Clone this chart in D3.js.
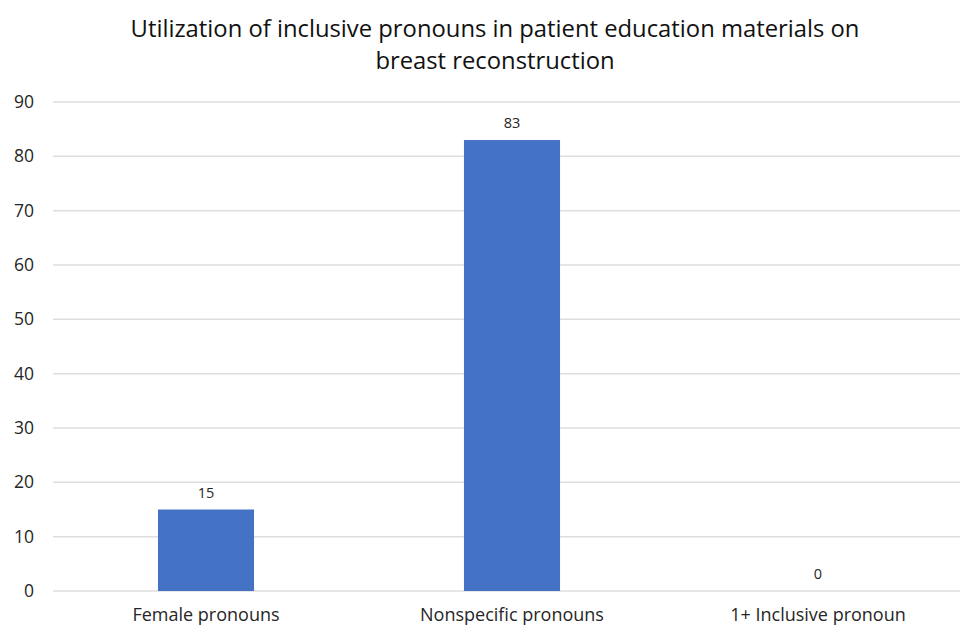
<!DOCTYPE html>
<html>
<head>
<meta charset="utf-8">
<script src="https://cdn.jsdelivr.net/npm/d3@7"></script>
<style>
  body { margin: 0; background: #fff; }
  svg { font-family: "Open Sans", "Noto Sans", sans-serif; }
</style>
</head>
<body>
<div id="chart"></div>
<script>
var categories = ["Female pronouns", "Nonspecific pronouns", "1+ Inclusive pronoun"];
var values = [15, 83, 0];
var yTicks = [0, 10, 20, 30, 40, 50, 60, 70, 80, 90];
var titleLines = ["Utilization of inclusive pronouns in patient education materials on", "breast reconstruction"];

var width = 960, height = 628;

var svg = d3.select("#chart")
  .append("svg")
    .attr("width", width)
    .attr("height", height);

// plot area runs a bit past the right edge, like the cropped original
var x = d3.scaleBand()
  .domain(categories)
  .range([53, 971])
  .paddingInner(0.686)
  .paddingOuter(0.343);

var y = d3.scaleLinear()
  .domain([0, 90])
  .range([591, 102]);

// gridlines
svg.append("g")
  .selectAll("line")
  .data(yTicks)
  .enter()
  .append("line")
    .attr("x1", 53)
    .attr("x2", width)
    .attr("y1", function(d) { return y(d); })
    .attr("y2", function(d) { return y(d); })
    .style("stroke", "#dedede")
    .style("stroke-width", 1.5);

// y axis labels
svg.append("g")
  .selectAll("text")
  .data(yTicks)
  .enter()
  .append("text")
    .attr("x", 34)
    .attr("y", function(d) { return y(d); })
    .attr("dy", "0.35em")
    .attr("text-anchor", "end")
    .style("font-size", "17.5px")
    .style("fill", "#262626")
    .text(function(d) { return d; });

// bars
svg.append("g")
  .selectAll("rect")
  .data(values)
  .enter()
  .append("rect")
    .attr("x", function(d, i) { return x(categories[i]); })
    .attr("width", x.bandwidth())
    .attr("y", function(d) { return y(d); })
    .attr("height", function(d) { return y(0) - y(d); })
    .style("fill", "#4472c4");

// value labels
svg.append("g")
  .selectAll("text")
  .data(values)
  .enter()
  .append("text")
    .attr("x", function(d, i) { return x(categories[i]) + x.bandwidth() / 2; })
    .attr("y", function(d) { return y(d) - 12; })
    .attr("text-anchor", "middle")
    .style("font-size", "14.5px")
    .style("fill", "#262626")
    .text(function(d) { return d; });

// category labels
svg.append("g")
  .selectAll("text")
  .data(categories)
  .enter()
  .append("text")
    .attr("x", function(d) { return x(d) + x.bandwidth() / 2; })
    .attr("y", 621)
    .attr("text-anchor", "middle")
    .style("font-size", "18px")
    .style("fill", "#262626")
    .text(function(d) { return d; });

// title
svg.append("g")
  .selectAll("text")
  .data(titleLines)
  .enter()
  .append("text")
    .attr("x", 495)
    .attr("y", function(d, i) { return 37 + i * 32; })
    .attr("text-anchor", "middle")
    .style("font-size", "23.8px")
    .style("fill", "#111")
    .text(function(d) { return d; });
</script>
</body>
</html>
